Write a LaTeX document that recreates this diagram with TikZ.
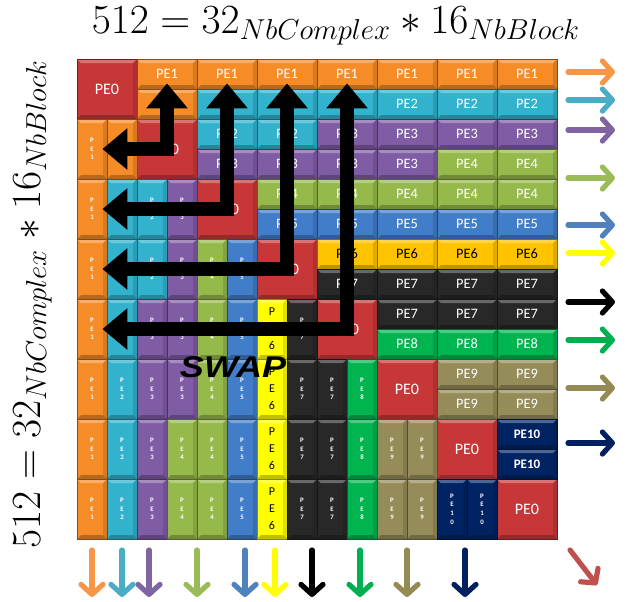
\documentclass[tikz,border=0pt]{standalone}
\usepackage{fontspec}
\setsansfont{Carlito}
\newfontfamily\swapfont{Liberation Sans}
\usetikzlibrary{arrows.meta}
% cell colours
\definecolor{pe0}{RGB}{200,55,55}
\definecolor{pe1}{RGB}{245,140,40}
\definecolor{pe2}{RGB}{50,178,205}
\definecolor{pe3}{RGB}{128,92,165}
\definecolor{pe4}{RGB}{150,185,75}
\definecolor{pe5}{RGB}{65,125,200}
\definecolor{pe6}{RGB}{255,195,0}
\definecolor{pe7}{RGB}{40,40,40}
\definecolor{pe8}{RGB}{0,180,80}
\definecolor{pe9}{RGB}{150,140,90}
\definecolor{pe10}{RGB}{0,35,100}
\colorlet{lo1}{pe1}\colorlet{lo2}{pe2}\colorlet{lo3}{pe3}\colorlet{lo4}{pe4}
\colorlet{lo5}{pe5}\definecolor{lo6}{RGB}{255,255,0}\colorlet{lo7}{pe7}
\colorlet{lo8}{pe8}\colorlet{lo9}{pe9}\colorlet{lo10}{pe10}
\colorlet{tx1}{white}\colorlet{tx2}{white}\colorlet{tx3}{white}\colorlet{tx4}{white}
\colorlet{tx5}{white}\colorlet{tx6}{black}\colorlet{tx7}{white}\colorlet{tx8}{white}
\colorlet{tx9}{white}\colorlet{tx10}{white}
% arrow colours
\definecolor{ar0}{RGB}{192,80,77}
\definecolor{ar1}{RGB}{247,150,70}
\definecolor{ar2}{RGB}{75,172,198}
\definecolor{ar3}{RGB}{128,100,162}
\definecolor{ar4}{RGB}{155,187,89}
\definecolor{ar5}{RGB}{79,129,189}
\definecolor{ar6}{RGB}{255,255,0}
\definecolor{ar7}{RGB}{0,0,0}
\definecolor{ar8}{RGB}{0,176,80}
\definecolor{ar9}{RGB}{148,138,84}
\definecolor{ar10}{RGB}{0,32,96}
\newcommand\hfont[1]{\sffamily\ifnum#1=10 \bfseries\fontsize{6.5}{7}\selectfont\else\fontsize{7.2}{8}\selectfont\fi}
\newcommand\vfont[1]{\sffamily\ifnum#1=6 \fontsize{6}{8.5}\selectfont\else\bfseries\fontsize{3.4}{4.3}\selectfont\fi}
\newcommand\vpe[1]{\ifnum#1=10 P\\E\\1\\0\else P\\E\\#1\fi}
\tikzset{
  bevel/.style={path picture={
    \fill[white,opacity=.3] (path picture bounding box.north west) -- (path picture bounding box.north east)
      -- ([shift={(-2pt,-2pt)}]path picture bounding box.north east) -- ([shift={(2pt,-2pt)}]path picture bounding box.north west) -- cycle;
    \fill[black,opacity=.25] (path picture bounding box.south west) -- (path picture bounding box.south east)
      -- ([shift={(-2pt,2pt)}]path picture bounding box.south east) -- ([shift={(2pt,2pt)}]path picture bounding box.south west) -- cycle;
    \fill[black,opacity=.12] (path picture bounding box.north east) -- (path picture bounding box.south east)
      -- ([shift={(-2pt,2pt)}]path picture bounding box.south east) -- ([shift={(-2pt,-2pt)}]path picture bounding box.north east) -- cycle;
  }},
  cell/.style={bevel,fill=#1,draw=#1!55!black,line width=.4pt,inner sep=0pt},
  hcell/.style={cell=#1,minimum width=30pt,minimum height=15pt},
  vcell/.style={cell=#1,minimum width=15pt,minimum height=30pt,align=center},
  dcell/.style={cell=pe0,minimum size=30pt,text=white,font=\sffamily\fontsize{8}{9}\selectfont},
  swaparrow/.style={line width=7pt,{Triangle[width=20pt,length=12.5pt]}-{Triangle[width=20pt,length=12.5pt]},
    shorten <=-3pt,shorten >=-2.5pt},
  flow/.style={line width=2.6pt,line cap=round,-{Straight Barb[length=5pt,width=11pt,line cap=round,line join=round]}},
  title/.style={inner sep=0pt,anchor=base,font=\fontsize{20}{24}\selectfont},
}
\begin{document}
\begin{tikzpicture}[x=0.5pt,y=-0.5pt]
\useasboundingbox (0,0) rectangle (636,601);
% diagonal blocks
\foreach\i in{0,...,7}{
\node[dcell](d\i)at(107+60*\i,89+60*\i){PE0};}
% half blocks: upper rows and lower columns
\foreach\r/\a/\b/\p in{0/1/7/1,1/1/1/1,1/2/7/2,2/2/3/2,2/4/7/3,3/2/5/3,3/6/7/4,4/3/7/4,
5/3/7/5,6/4/7/6,7/4/7/7,8/5/7/7,9/5/7/8,10/6/7/9,11/6/7/9,12/7/7/10,13/7/7/10}{
\foreach\j in{\a,...,\b}{
\node[hcell=pe\p,text=tx\p,font=\hfont{\p}](u\r-\j)at(107+60*\j,74+30*\r){PE\p};
\node[vcell=lo\p,text=tx\p,font=\vfont{\p}](l\j-\r)at(92+30*\r,89+60*\j){\vpe{\p}};}}
% swap arrows
\foreach\j in{1,...,4}{
\draw[swaparrow](u0-\j)|-(l\j-0);}
\node[font=\swapfont\bfseries\itshape\fontsize{15}{18}\selectfont,xscale=1.2](swap)at(233,367){SWAP};
% titles
\node[title](toptitle)at(336,33){$512=32_{NbComplex}*16_{NbBlock}$};
\node[title,rotate=90](sidetitle)at(40,304){$512=32_{NbComplex}*16_{NbBlock}$};
% output arrows
\foreach\p/\y in{1/72,2/100,3/130,4/178,5/225,6/253,7/302,8/340,9/388,10/443}{
\draw[flow,draw=ar\p](568,\y)--(615,\y);}
\foreach\p/\x in{1/92,2/122,3/149,4/197,5/245,6/275,7/312,8/360,9/407,10/465}{
\draw[flow,draw=ar\p](\x,550)--(\x,597);}
\draw[flow,draw=ar0](570,550)--(597,585);
\end{tikzpicture}
\end{document}
